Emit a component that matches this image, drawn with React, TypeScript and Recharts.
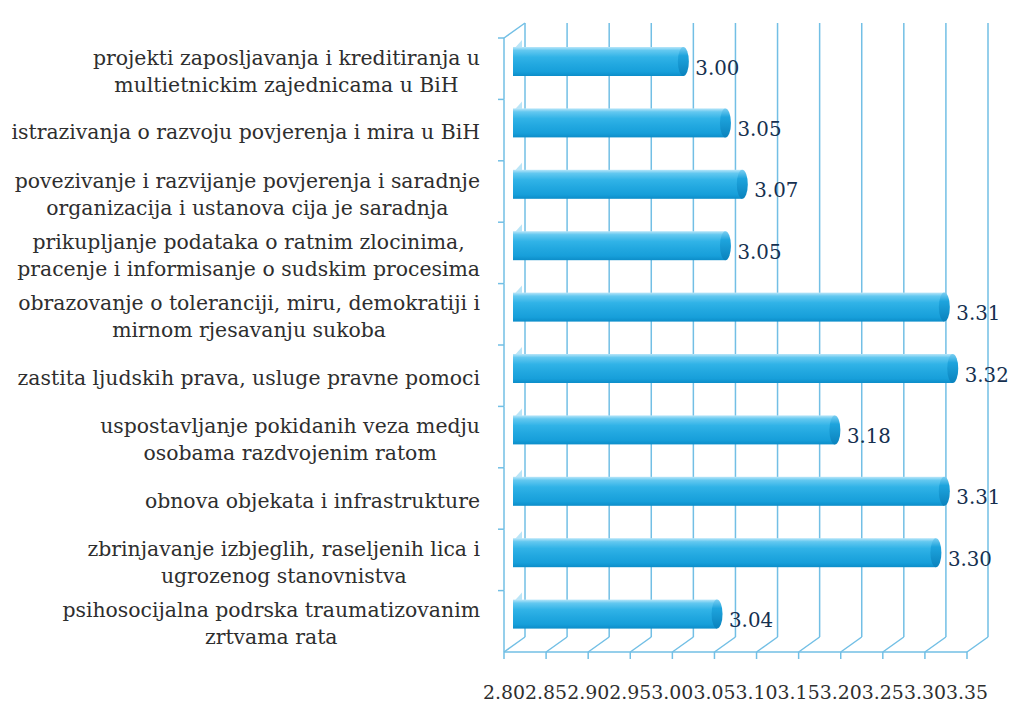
import React from "react";
import { BarChart, Bar, XAxis, YAxis, CartesianGrid, LabelList } from "recharts";

const categories: string[] = [
  "projekti zaposljavanja i kreditiranja u\nmultietnickim zajednicama u BiH",
  "istrazivanja o razvoju povjerenja i mira u BiH",
  "povezivanje i razvijanje povjerenja i saradnje\norganizacija i ustanova cija je saradnja",
  "prikupljanje podataka o ratnim zlocinima,\npracenje i informisanje o sudskim procesima",
  "obrazovanje o toleranciji, miru, demokratiji i\nmirnom rjesavanju sukoba",
  "zastita ljudskih prava, usluge pravne pomoci",
  "uspostavljanje pokidanih veza medju\nosobama razdvojenim ratom",
  "obnova objekata i infrastrukture",
  "zbrinjavanje izbjeglih, raseljenih lica i\nugrozenog stanovnistva",
  "psihosocijalna podrska traumatizovanim\nzrtvama rata",
];
const values: number[] = [3.0, 3.05, 3.07, 3.05, 3.31, 3.32, 3.18, 3.31, 3.3, 3.04];
const xTicks: number[] = [2.8, 2.85, 2.9, 2.95, 3.0, 3.05, 3.1, 3.15, 3.2, 3.25, 3.3, 3.35];

const data = categories.map((name, i) => ({ name, value: values[i] }));

// layout
const W = 1014;
const H = 704;
const TOP = 23;
const RIGHT = 26;
const YW = 525;
const XH = 67;
const DX = 21; // depth offset (front plane is left/down of back wall)
const DY = 15;
const PLOT_W = W - YW - RIGHT;
const PLOT_H = H - TOP - XH;
const FLOOR = H - XH;
const BAND = PLOT_H / categories.length;

const GRID = "#72bfe5";
const SERIF = "'DejaVu Serif', serif";
const CAT_SIZE = 20.4;

let ctx: CanvasRenderingContext2D | null = null;
function measure(text: string, font: string): number {
  if (!ctx) ctx = document.createElement("canvas").getContext("2d");
  if (!ctx) return text.length * 10;
  ctx.font = font;
  return ctx.measureText(text).width;
}

const YTick = (props: any) => {
  const { y, payload, index } = props;
  const lines = String(payload.value).split("\n");
  const font = `${CAT_SIZE}px 'DejaVu Serif'`;
  const maxW = Math.max(...lines.map((l) => measure(l, font)));
  const right = YW - 45;
  const cx = right - maxW / 2;
  const fc = y + DY;
  const wallX = YW - DX;
  const bases = lines.length === 1 ? [fc + 9] : [fc - 4, fc + 23];
  return (
    <g>
      <line x1={wallX} y1={fc - BAND / 2} x2={wallX} y2={fc + BAND / 2} stroke={GRID} strokeWidth={1.5} />
      <line x1={wallX - 6} y1={fc - BAND / 2} x2={wallX} y2={fc - BAND / 2} stroke={GRID} strokeWidth={1.5} />
      {index === 0 && (
        <line x1={wallX} y1={fc - BAND / 2} x2={YW} y2={fc - BAND / 2 - DY} stroke={GRID} strokeWidth={1.5} />
      )}
      {lines.map((l, i) => (
        <text key={i} x={cx} y={bases[i]} textAnchor="middle" fontFamily={SERIF} fontSize={CAT_SIZE} fill="#2e2e2e">
          {l}
        </text>
      ))}
    </g>
  );
};

const XTick = (props: any) => {
  const { x, payload, index } = props;
  const fx = x - DX;
  const fy = FLOOR + DY;
  return (
    <g>
      {index === 0 && <line x1={fx} y1={fy} x2={fx + PLOT_W} y2={fy} stroke={GRID} strokeWidth={1.5} />}
      <line x1={fx} y1={fy} x2={x} y2={FLOOR} stroke={GRID} strokeWidth={1.5} />
      <line x1={fx} y1={fy} x2={fx} y2={fy + 7} stroke={GRID} strokeWidth={1.5} />
      <text x={fx} y={699} textAnchor="middle" fontFamily={SERIF} fontSize={18.9} fill="#2e2e2e">
        {Number(payload.value).toFixed(2)}
      </text>
    </g>
  );
};

const BarShape = (props: any) => {
  const { x, y, width, height } = props;
  const x0 = x - 12;
  const xe = x + width - 10;
  const top = y + 8;
  const h = height;
  return (
    <g>
      <polygon
        points={`${x0},${top + 3} ${x0 + 9},${top - 7} ${x0 + 9},${top + 4}`}
        fill="#a9def5"
        opacity={0.8}
      />
      <rect x={x0} y={top} width={Math.max(0, xe - x0)} height={h} fill="url(#barGrad)" />
      <ellipse cx={xe} cy={top + h / 2} rx={5.5} ry={h / 2} fill="url(#capGrad)" />
    </g>
  );
};

const ValueLabel = (props: any) => {
  const { x, y, width, height, value } = props;
  return (
    <text x={x + width + 2} y={y + height / 2 + 21} fontFamily={SERIF} fontSize={19.8} fill="#15304f">
      {Number(value).toFixed(2)}
    </text>
  );
};

export default function App() {
  return (
    <div style={{ position: "absolute", left: 0, top: 0, width: W, height: H, background: "#ffffff" }}>
      <BarChart
        width={W}
        height={H}
        data={data}
        layout="vertical"
        margin={{ top: TOP, right: RIGHT, left: 0, bottom: 0 }}
        barCategoryGap={0}
      >
        <defs>
          <linearGradient id="barGrad" x1="0" y1="0" x2="0" y2="1">
            <stop offset="0" stopColor="#b9e6f9" />
            <stop offset="0.12" stopColor="#63c8f0" />
            <stop offset="0.35" stopColor="#31b3e7" />
            <stop offset="0.6" stopColor="#22a8e0" />
            <stop offset="0.85" stopColor="#179fda" />
            <stop offset="1" stopColor="#0c8dc9" />
          </linearGradient>
          <linearGradient id="capGrad" x1="0" y1="0" x2="0" y2="1">
            <stop offset="0" stopColor="#7ccff2" />
            <stop offset="0.3" stopColor="#1ea4dd" />
            <stop offset="1" stopColor="#0a82bd" />
          </linearGradient>
        </defs>
        <CartesianGrid horizontal={false} vertical={true} stroke={GRID} strokeWidth={1.5} />
        <XAxis
          type="number"
          domain={[2.8, 3.35]}
          ticks={xTicks}
          interval={0}
          axisLine={false}
          tickLine={false}
          height={XH}
          tick={(p: any) => <XTick {...p} />}
        />
        <YAxis
          type="category"
          dataKey="name"
          width={YW}
          interval={0}
          axisLine={false}
          tickLine={false}
          tick={(p: any) => <YTick {...p} />}
        />
        <Bar dataKey="value" barSize={29} shape={(p: any) => <BarShape {...p} />} isAnimationActive={false}>
          <LabelList dataKey="value" content={(p: any) => <ValueLabel {...p} />} />
        </Bar>
      </BarChart>
    </div>
  );
}
